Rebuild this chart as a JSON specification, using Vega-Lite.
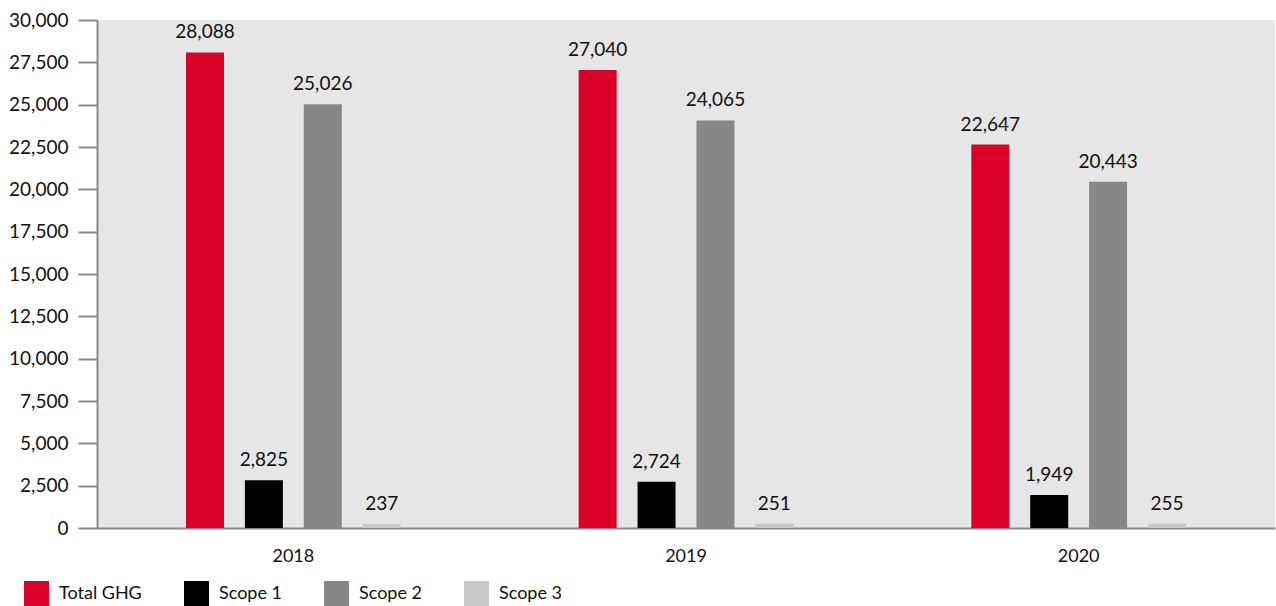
{
  "$schema": "https://vega.github.io/schema/vega-lite/v6.json",
  "width": 1178,
  "height": 508,
  "autosize": {"type": "none"},
  "padding": {"left": 97, "top": 20, "right": 1, "bottom": 78},
  "background": "white",
  "config": {
    "view": {"fill": "#e6e6e6", "stroke": null},
    "font": "Lato"
  },
  "data": {
    "values": [
      {"year": "2018", "series": "Total GHG", "value": 28088},
      {"year": "2018", "series": "Scope 1", "value": 2825},
      {"year": "2018", "series": "Scope 2", "value": 25026},
      {"year": "2018", "series": "Scope 3", "value": 237},
      {"year": "2019", "series": "Total GHG", "value": 27040},
      {"year": "2019", "series": "Scope 1", "value": 2724},
      {"year": "2019", "series": "Scope 2", "value": 24065},
      {"year": "2019", "series": "Scope 3", "value": 251},
      {"year": "2020", "series": "Total GHG", "value": 22647},
      {"year": "2020", "series": "Scope 1", "value": 1949},
      {"year": "2020", "series": "Scope 2", "value": 20443},
      {"year": "2020", "series": "Scope 3", "value": 255}
    ]
  },
  "encoding": {
    "x": {
      "field": "year", "type": "nominal",
      "scale": {"paddingInner": 0.4, "paddingOuter": 0.2},
      "axis": {"title": null, "labelAngle": 0, "ticks": false, "domainColor": "#8a8a8a", "domainWidth": 2, "labelFontSize": 18, "labelColor": "#111", "labelPadding": 19}
    },
    "xOffset": {
      "field": "series", "type": "nominal",
      "sort": ["Total GHG", "Scope 1", "Scope 2", "Scope 3"],
      "scale": {"paddingInner": 0.355, "paddingOuter": 0.1775}
    },
    "y": {
      "field": "value", "type": "quantitative",
      "scale": {"domain": [0, 30000], "nice": false},
      "axis": {"title": null, "values": [0, 2500, 5000, 7500, 10000, 12500, 15000, 17500, 20000, 22500, 25000, 27500, 30000], "format": ",.0f", "grid": false, "domainColor": "#8a8a8a", "domainWidth": 2, "tickColor": "#8a8a8a", "tickWidth": 2, "tickSize": 19, "labelFontSize": 19, "labelColor": "#111", "labelPadding": 10}
    }
  },
  "layer": [
    {
      "mark": {"type": "bar"},
      "encoding": {
        "color": {
          "field": "series", "type": "nominal",
          "sort": ["Total GHG", "Scope 1", "Scope 2", "Scope 3"],
          "scale": {"domain": ["Total GHG", "Scope 1", "Scope 2", "Scope 3"], "range": ["#d9002a", "#000000", "#878787", "#c8c8c8"]},
          "legend": {
            "title": null, "orient": "none", "legendX": -73, "legendY": 561,
            "direction": "horizontal", "symbolType": "square", "symbolSize": 625,
            "symbolStrokeWidth": 0, "labelFontSize": 18, "labelColor": "#111",
            "labelOffset": 10, "columnPadding": 42, "padding": 0
          }
        }
      }
    },
    {
      "mark": {"type": "text", "baseline": "bottom", "dy": -10, "fontSize": 19, "color": "#111"},
      "encoding": {
        "text": {"field": "value", "type": "quantitative", "format": ",.0f"}
      }
    }
  ]
}
